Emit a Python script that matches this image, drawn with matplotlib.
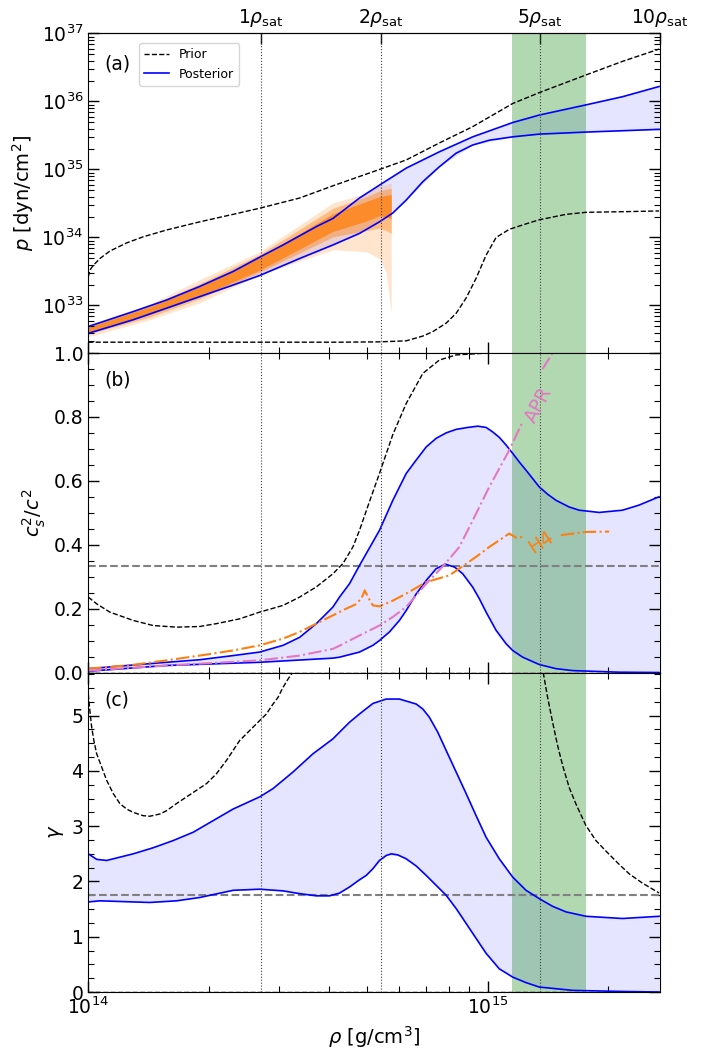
import numpy as np
import matplotlib; matplotlib.use('Agg'); import matplotlib.pyplot as plt
from matplotlib.ticker import MultipleLocator, NullLocator, NullFormatter

RHO_SAT = 2.7e14
SAT_MULT = [1, 2, 5, 10]
SAT_LABELS = [r'$1\rho_{\rm sat}$', r'$2\rho_{\rm sat}$', r'$5\rho_{\rm sat}$', r'$10\rho_{\rm sat}$']
NICER_BAND = (1.15e15, 1.76e15)

# (a) pressure: log10(rho), log10(p)
lr_p_prior_hi = [14.0, 14.004, 14.0125, 14.029, 14.054, 14.096, 14.1375, 14.196, 14.279, 14.3625, 14.429, 14.529,
                 14.6125, 14.729, 14.796, 14.879, 14.9625, 15.0625, 15.129, 15.246, 15.3375, 15.429]
lp_prior_hi = [33.42, 33.52, 33.59, 33.69, 33.80, 33.92, 34.01, 34.11, 34.23, 34.34, 34.43, 34.58,
               34.76, 35.0, 35.14, 35.39, 35.63, 35.97, 36.13, 36.39, 36.59, 36.77]
lr_p_prior_lo = [14.0, 14.629, 14.729, 14.796, 14.8375, 14.8625, 14.896, 14.921, 14.946, 14.971, 14.996, 15.021,
                 15.054, 15.096, 15.129, 15.196, 15.246, 15.346, 15.429]
lp_prior_lo = [32.46, 32.46, 32.465, 32.48, 32.55, 32.615, 32.74, 32.885, 33.11, 33.40, 33.74, 34.0,
               34.12, 34.2, 34.26, 34.34, 34.37, 34.38, 34.39]
lr_p_post_hi = [14.0, 14.1125, 14.196, 14.279, 14.3625, 14.429, 14.4875, 14.571, 14.6125, 14.679, 14.729, 14.796,
                14.879, 14.9625, 15.0625, 15.129, 15.246, 15.3375, 15.429]
lp_post_hi = [32.69, 32.91, 33.08, 33.28, 33.50, 33.71, 33.89, 34.16, 34.28, 34.58, 34.77, 35.02,
              35.26, 35.48, 35.69, 35.80, 35.95, 36.07, 36.22]
lr_p_post_lo = [14.0, 14.1125, 14.196, 14.279, 14.3625, 14.429, 14.529, 14.6125, 14.679, 14.729, 14.7625, 14.796,
                14.8375, 14.879, 14.921, 14.9625, 15.004, 15.0625, 15.129, 15.246, 15.429]
lp_post_lo = [32.59, 32.79, 32.96, 33.13, 33.30, 33.44, 33.69, 33.89, 34.06, 34.23, 34.36, 34.55,
              34.82, 35.04, 35.24, 35.36, 35.43, 35.48, 35.52, 35.55, 35.59]
lr_band = [14.0, 14.154, 14.279, 14.429, 14.613, 14.696, 14.729, 14.746, 14.7585]
lp_light_hi = [32.72, 33.02, 33.38, 33.79, 34.51, 34.65, 34.76, 34.78, 34.80]
lp_light_lo = [32.54, 32.79, 33.04, 33.45, 33.82, 33.79, 33.69, 33.48, 32.89]
lp_mid_hi = [32.70, 33.00, 33.32, 33.75, 34.43, 34.60, 34.68, 34.71, 34.72]
lp_mid_lo = [32.58, 32.83, 33.10, 33.49, 34.01, 34.10, 34.14, 34.10, 34.06]
lp_dark_hi = [32.68, 32.98, 33.28, 33.71, 34.35, 34.53, 34.60, 34.62, 34.63]
lp_dark_lo = [32.60, 32.87, 33.13, 33.52, 34.09, 34.24, 34.32, 34.30, 34.28]

# (b) sound speed squared
lr_c_prior_hi = [14.0, 14.021, 14.054, 14.1125, 14.1625, 14.221, 14.279, 14.321, 14.379, 14.429, 14.4875, 14.529,
                 14.571, 14.6125, 14.6375, 14.6625, 14.679, 14.704, 14.729, 14.7625, 14.796, 14.8375, 14.879, 14.921,
                 15.0, 15.429]
cs_prior_hi = [0.236, 0.215, 0.189, 0.163, 0.147, 0.142, 0.144, 0.153, 0.168, 0.189, 0.210, 0.236,
               0.268, 0.309, 0.341, 0.393, 0.445, 0.535, 0.623, 0.745, 0.842, 0.936, 0.978, 0.994,
               1.0, 1.0]
lr_c_prior_lo = [14.0, 15.429]
cs_prior_lo = [0.0, 0.0]
lr_c_post_hi = [14.0, 14.196, 14.279, 14.3625, 14.429, 14.4875, 14.529, 14.571, 14.6125, 14.629, 14.654, 14.679,
                14.704, 14.729, 14.7625, 14.796, 14.821, 14.846, 14.871, 14.896, 14.921, 14.950, 14.975, 14.996,
                15.0125, 15.029, 15.046, 15.0625, 15.079, 15.096, 15.1125, 15.129, 15.150, 15.171, 15.204, 15.229,
                15.279, 15.3375, 15.379, 15.429]
cs_post_hi = [0.012, 0.032, 0.040, 0.053, 0.064, 0.085, 0.110, 0.153, 0.205, 0.236, 0.278, 0.335,
              0.390, 0.445, 0.539, 0.623, 0.665, 0.706, 0.733, 0.750, 0.761, 0.767, 0.771, 0.767,
              0.753, 0.736, 0.712, 0.686, 0.659, 0.633, 0.607, 0.581, 0.558, 0.539, 0.518, 0.508,
              0.501, 0.508, 0.524, 0.550]
lr_c_post_lo = [14.0, 14.196, 14.429, 14.6125, 14.629, 14.679, 14.7125, 14.729, 14.754, 14.779, 14.796, 14.821,
                14.846, 14.871, 14.894, 14.917, 14.9375, 14.9625, 14.979, 14.996, 15.021, 15.046, 15.0625, 15.0875,
                15.129, 15.171, 15.2125, 15.329, 15.429]
cs_post_lo = [0.004, 0.022, 0.032, 0.045, 0.048, 0.064, 0.085, 0.100, 0.127, 0.163, 0.194, 0.246,
              0.288, 0.325, 0.339, 0.330, 0.309, 0.267, 0.231, 0.189, 0.132, 0.090, 0.069, 0.048,
              0.025, 0.012, 0.006, 0.001, 0.0]
lr_h4 = [14.0, 14.1125, 14.196, 14.279, 14.3625, 14.429, 14.4875, 14.529, 14.571, 14.6125, 14.646, 14.669,
         14.684, 14.692, 14.702, 14.7125, 14.729, 14.7625, 14.796, 14.846, 14.904, 14.9375, 14.971, 15.004,
         15.054, 15.071, 15.0875, 15.1835, 15.246, 15.304]
cs_h4 = [0.012, 0.024, 0.038, 0.053, 0.069, 0.085, 0.106, 0.127, 0.153, 0.179, 0.200, 0.213,
         0.232, 0.257, 0.232, 0.210, 0.207, 0.225, 0.247, 0.283, 0.304, 0.333, 0.362, 0.393,
         0.435, 0.422, 0.424, 0.430, 0.440, 0.441]
H4_GAP = 27   # inline label breaks the curve here
lr_apr = [14.0, 14.196, 14.429, 14.529, 14.6125, 14.629, 14.679, 14.729, 14.7625, 14.796, 14.846, 14.894,
          14.929, 14.9625, 15.004, 15.054, 15.0875, 15.1375, 15.1625]
cs_apr = [0.006, 0.022, 0.038, 0.053, 0.074, 0.084, 0.116, 0.147, 0.174, 0.205, 0.278, 0.341,
          0.393, 0.476, 0.581, 0.696, 0.785, 0.95, 1.0]
APR_GAP = 17

# (c) adiabatic index
lr_g_prior_hi_l = [14.0, 14.004, 14.0085, 14.014, 14.021, 14.0335, 14.046, 14.0625, 14.079, 14.096, 14.1125, 14.1375,
                   14.154, 14.179, 14.196, 14.221, 14.246, 14.271, 14.296, 14.321, 14.346, 14.3625, 14.379, 14.404,
                   14.429, 14.446, 14.4625, 14.475, 14.4875, 14.500, 14.5085, 14.514]
g_prior_hi_l = [5.39, 5.09, 4.79, 4.55, 4.31, 4.07, 3.83, 3.59, 3.41, 3.31, 3.25, 3.19,
                3.18, 3.22, 3.28, 3.41, 3.53, 3.65, 3.77, 3.95, 4.19, 4.37, 4.55, 4.73,
                4.91, 5.03, 5.21, 5.33, 5.51, 5.66, 5.75, 5.85]
lr_g_prior_hi_r = [15.139, 15.150, 15.1625, 15.175, 15.1875, 15.204, 15.221, 15.246, 15.271, 15.296, 15.329, 15.354,
                   15.3875, 15.425, 15.429]
g_prior_hi_r = [5.78, 5.33, 4.88, 4.46, 4.10, 3.70, 3.40, 3.01, 2.74, 2.55, 2.31, 2.14,
                1.97, 1.81, 1.79]
lr_g_prior_lo = [14.0, 15.429]
g_prior_lo = [0.0, 0.0]
lr_g_post_hi = [14.0, 14.021, 14.046, 14.1125, 14.1625, 14.2125, 14.2625, 14.3125, 14.3625, 14.429, 14.4625, 14.5125,
                14.5625, 14.6125, 14.629, 14.654, 14.679, 14.7125, 14.746, 14.779, 14.821, 14.8375, 14.854, 14.875,
                14.896, 14.921, 14.946, 14.971, 14.996, 15.029, 15.0625, 15.096, 15.129, 15.1625, 15.196, 15.246,
                15.3375, 15.429]
g_post_hi = [2.50, 2.40, 2.38, 2.50, 2.61, 2.74, 2.89, 3.10, 3.31, 3.53, 3.68, 3.98,
             4.31, 4.58, 4.70, 4.88, 5.03, 5.22, 5.30, 5.30, 5.21, 5.12, 4.97, 4.70,
             4.37, 3.98, 3.59, 3.19, 2.80, 2.41, 2.08, 1.84, 1.69, 1.55, 1.45, 1.37,
             1.33, 1.37]
lr_g_post_lo = [14.0, 14.029, 14.154, 14.221, 14.279, 14.3625, 14.429, 14.4875, 14.529, 14.571, 14.604, 14.629,
                14.654, 14.679, 14.696, 14.7125, 14.729, 14.746, 14.7585, 14.775, 14.796, 14.821, 14.846, 14.871,
                14.896, 14.921, 14.946, 14.971, 14.996, 15.029, 15.0625, 15.096, 15.129, 15.2125, 15.3375, 15.429]
g_post_lo = [1.63, 1.65, 1.62, 1.65, 1.71, 1.84, 1.86, 1.83, 1.78, 1.74, 1.74, 1.79,
             1.90, 2.03, 2.11, 2.23, 2.38, 2.47, 2.50, 2.48, 2.41, 2.28, 2.11, 1.93,
             1.75, 1.51, 1.24, 0.97, 0.70, 0.42, 0.27, 0.17, 0.09, 0.03, 0.01, 0.0]
GAMMA_REF = 1.75


def r(lr):
    return 10 ** np.asarray(lr)


def style(ax, top=True):
    ax.tick_params(which='both', direction='in', right=True, top=top, labelsize=13.5)
    ax.tick_params(which='major', length=8, width=1)
    ax.tick_params(which='minor', length=4, width=0.8)
    for m in SAT_MULT[:3]:
        ax.axvline(m * RHO_SAT, ls=':', c='0.25', lw=0.8)


fig, (ax1, ax2, ax3) = plt.subplots(3, 1, sharex=True, figsize=(7.04, 10.53), dpi=100)
fig.subplots_adjust(left=0.1254, right=0.9375, top=0.9682, bottom=0.0579, hspace=0)

# (a)
ax1.set_xscale('log'); ax1.set_yscale('log')
ax1.fill_between(r(lr_p_post_hi), r(lp_post_hi), np.interp(lr_p_post_hi, lr_p_post_lo, r(lp_post_lo)),
                 color='blue', alpha=0.1, lw=0)
ax1.axvspan(*NICER_BAND, color='green', alpha=0.3, lw=0)
ax1.fill_between(r(lr_band), r(lp_light_lo), r(lp_light_hi), color='C1', alpha=0.2, lw=0)
ax1.fill_between(r(lr_band), r(lp_mid_lo), r(lp_mid_hi), color='C1', alpha=0.4, lw=0)
ax1.fill_between(r(lr_band), r(lp_dark_lo), r(lp_dark_hi), color='C1', alpha=0.75, lw=0)
ax1.plot(r(lr_p_prior_hi), r(lp_prior_hi), 'k--', lw=1, label='Prior')
ax1.plot(r(lr_p_prior_lo), r(lp_prior_lo), 'k--', lw=1)
ax1.plot(r(lr_p_post_hi), r(lp_post_hi), c='blue', lw=1.2, label='Posterior')
ax1.plot(r(lr_p_post_lo), r(lp_post_lo), c='blue', lw=1.2)
ax1.set_ylim(2e32, 1e37)
ax1.set_ylabel(r'$p$ [dyn/cm$^2$]', fontsize=14)
style(ax1, top=False)
ax1.legend(loc='upper left', bbox_to_anchor=(0.089, 0.969), borderaxespad=0, fontsize=9)
ax1.text(0.028, 0.905, '(a)', transform=ax1.transAxes, fontsize=13.5, va='center')
sec = ax1.secondary_xaxis('top')
sec.set_xticks([m * RHO_SAT for m in SAT_MULT], labels=SAT_LABELS)
sec.xaxis.set_minor_locator(NullLocator())
sec.tick_params(direction='in', length=8, width=1, labelsize=13.5)

# (b)
ax2.fill_between(r(lr_c_post_hi), cs_post_hi, np.interp(lr_c_post_hi, lr_c_post_lo, cs_post_lo),
                 color='blue', alpha=0.1, lw=0)
ax2.axvspan(*NICER_BAND, color='green', alpha=0.3, lw=0)
ax2.axhline(1 / 3, ls='--', c='gray', lw=1.5)
ax2.plot(r(lr_c_prior_hi), cs_prior_hi, 'k--', lw=1)
ax2.plot(r(lr_c_prior_lo), cs_prior_lo, 'k--', lw=1)
ax2.plot(r(lr_c_post_hi), cs_post_hi, c='blue', lw=1.2)
ax2.plot(r(lr_c_post_lo), cs_post_lo, c='blue', lw=1.2)
ax2.plot(r(lr_h4[:H4_GAP]), cs_h4[:H4_GAP], c='C1', ls='-.', lw=1.5)
ax2.plot(r(lr_h4[H4_GAP:]), cs_h4[H4_GAP:], c='C1', ls='-.', lw=1.5)
ax2.plot(r(lr_apr[:APR_GAP]), cs_apr[:APR_GAP], c='C6', ls='-.', lw=1.5)
ax2.plot(r(lr_apr[APR_GAP:]), cs_apr[APR_GAP:], c='C6', ls='-.', lw=1.5)
ax2.text(10 ** 15.133, 0.408, 'H4', color='C1', fontsize=13.5, rotation=33, ha='center', va='center')
ax2.text(10 ** 15.129, 0.837, 'APR', color='C6', fontsize=13.5, rotation=62, ha='center', va='center')
ax2.set_ylim(0, 1)
ax2.yaxis.set_major_locator(MultipleLocator(0.2)); ax2.yaxis.set_minor_locator(MultipleLocator(0.05))
ax2.set_ylabel(r'$c_s^2/c^2$', fontsize=14)
style(ax2)
ax2.text(0.028, 0.914, '(b)', transform=ax2.transAxes, fontsize=13.5, va='center')

# (c)
ax3.fill_between(r(lr_g_post_hi), g_post_hi, np.interp(lr_g_post_hi, lr_g_post_lo, g_post_lo),
                 color='blue', alpha=0.1, lw=0)
ax3.axvspan(*NICER_BAND, color='green', alpha=0.3, lw=0)
ax3.axhline(GAMMA_REF, ls='--', c='gray', lw=1.5)
ax3.plot(r(lr_g_prior_hi_l), g_prior_hi_l, 'k--', lw=1)
ax3.plot(r(lr_g_prior_hi_r), g_prior_hi_r, 'k--', lw=1)
ax3.plot(r(lr_g_prior_lo), g_prior_lo, 'k--', lw=1)
ax3.plot(r(lr_g_post_hi), g_post_hi, c='blue', lw=1.2)
ax3.plot(r(lr_g_post_lo), g_post_lo, c='blue', lw=1.2)
ax3.set_ylim(0, 5.78)
ax3.yaxis.set_major_locator(MultipleLocator(1)); ax3.yaxis.set_minor_locator(MultipleLocator(0.25))
ax3.set_ylabel(r'$\gamma$', fontsize=14)
style(ax3)
ax3.text(0.028, 0.914, '(c)', transform=ax3.transAxes, fontsize=13.5, va='center')

ax3.set_xlim(1e14, 10 * RHO_SAT)
ax3.xaxis.set_minor_formatter(NullFormatter())
ax3.set_xlabel(r'$\rho$ [g/cm$^3$]', fontsize=14)

fig.savefig('out.png', dpi=100)
